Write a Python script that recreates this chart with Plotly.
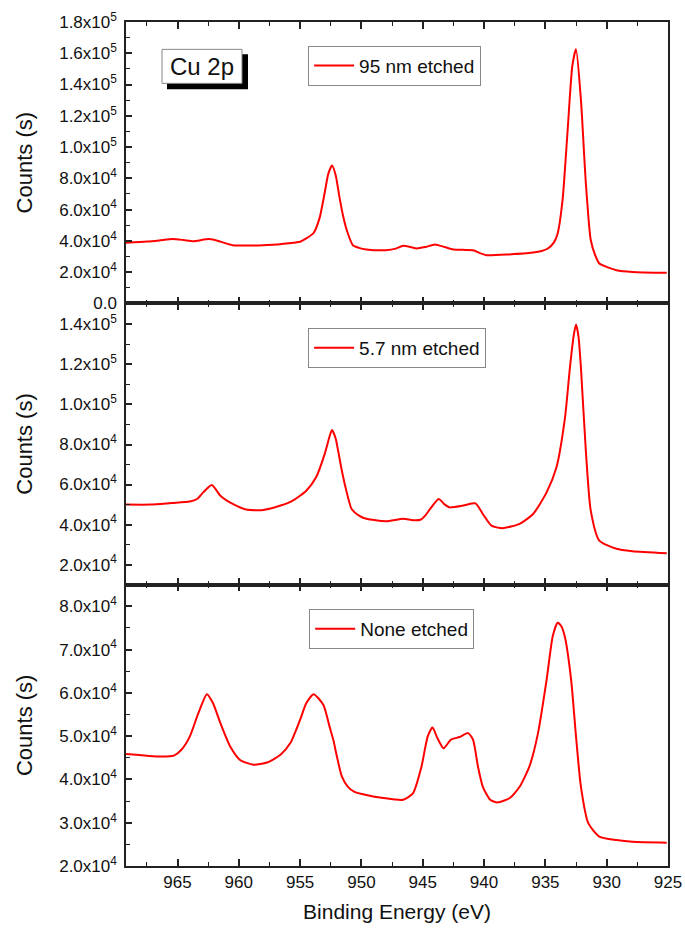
import plotly.graph_objects as go
from plotly.subplots import make_subplots

# ---------------- data (binding energy in eV, counts) ----------------
energy_95 = [969.2, 967.5, 966.5, 965.4, 964.5, 963.7, 962.4, 961.5, 960.5, 959.0, 958.0, 957.0,
             956.4, 955.0, 954.5, 953.9, 953.4, 953.0, 952.7, 952.4, 952.1, 951.8, 951.5, 951.2,
             950.7, 950.2, 949.6, 948.0, 947.2, 946.6, 946.0, 945.5, 944.8, 944.0, 943.2, 942.5,
             941.5, 940.9, 940.3, 939.8, 938.0, 936.0, 935.3, 934.8, 934.3, 934.0, 933.6, 933.2,
             932.8, 932.5, 932.1, 931.7, 931.3, 930.9, 930.6, 929.9, 929.2, 927.9, 925.1]
counts_95 = [38700, 39500, 40200, 41100, 40500, 39800, 41100, 39500, 37200, 37000, 37200, 37600,
             38100, 39400, 41500, 45000, 55000, 70600, 83000, 88200, 82000, 68300, 56000, 46900,
             37200, 35500, 34500, 34000, 35000, 36800, 36000, 35100, 36000, 37700, 36000, 34500,
             34200, 34000, 32000, 30800, 31300, 32500, 33500, 35100, 39000, 44700, 66000, 109000,
             152000, 162500, 130000, 77000, 40500, 30000, 25500, 23000, 21200, 20100, 19500]

energy_57 = [969.2, 967.2, 965.5, 964.0, 963.4, 962.9, 962.2, 961.5, 960.5, 959.4, 958.0, 956.6,
             955.6, 954.5, 953.7, 953.0, 952.6, 952.4, 952.1, 951.9, 951.6, 951.3, 950.8, 950.2,
             949.6, 948.0, 946.6, 945.8, 945.2, 944.8, 944.4, 943.7, 943.2, 942.8, 941.7, 940.7,
             940.1, 939.4, 938.5, 937.1, 936.0, 934.9, 934.1, 933.4, 933.0, 932.7, 932.5, 932.3,
             932.1, 931.7, 931.3, 930.6, 929.2, 927.9, 925.1]
counts_57 = [50000, 50000, 50800, 51500, 52800, 56100, 59800, 54400, 50300, 47500, 47300, 49500,
             52000, 56900, 63600, 75200, 84000, 87200, 83000, 76800, 67000, 58600, 47800, 44500,
             42900, 41700, 42900, 42200, 42400, 44500, 47800, 52800, 50000, 48600, 49500, 50600,
             45300, 39500, 38200, 40400, 45300, 56100, 68500, 93400, 118300, 134000, 139900, 134000,
             118300, 76800, 47000, 32000, 27900, 26700, 25700]

energy_none = [969.2, 966.4, 965.3, 964.7, 964.0, 963.3, 962.6, 962.1, 961.5, 960.7, 959.9, 958.8,
               957.7, 956.6, 955.8, 955.0, 954.5, 953.9, 953.1, 952.6, 952.3, 952.0, 951.6, 951.1,
               950.6, 949.6, 948.2, 946.6, 945.8, 945.1, 944.6, 944.2, 943.8, 943.3, 942.7, 942.0,
               941.3, 940.9, 940.5, 940.1, 939.5, 938.9, 937.9, 937.1, 936.3, 935.6, 934.9, 934.4,
               934.0, 933.7, 933.4, 932.9, 932.5, 932.1, 931.5, 930.6, 929.2, 927.9, 925.1]
counts_none = [45900, 45300, 45500, 46800, 49900, 55300, 59700, 57600, 53000, 47600, 44500, 43400,
               43900, 45700, 48400, 53800, 57600, 59700, 57200, 52200, 49200, 45300, 40700, 38300,
               37200, 36400, 35700, 35300, 36800, 43000, 49900, 52000, 49500, 47200, 49200, 49800,
               50700, 49200, 43000, 38300, 35300, 34700, 35700, 38300, 43000, 50700, 63000, 73100,
               76200, 75400, 72800, 63000, 49900, 38300, 29900, 26800, 26000, 25600, 25400]

series_names = ["95 nm etched", "5.7 nm etched", "None etched"]

# y tick definitions per panel
ytick_vals_top = [0, 20000, 40000, 60000, 80000, 100000, 120000, 140000, 160000, 180000]
ytick_text_top = ["0.0", "2.0x10<sup>4</sup>", "4.0x10<sup>4</sup>", "6.0x10<sup>4</sup>",
                  "8.0x10<sup>4</sup>", "1.0x10<sup>5</sup>", "1.2x10<sup>5</sup>",
                  "1.4x10<sup>5</sup>", "1.6x10<sup>5</sup>", "1.8x10<sup>5</sup>"]
ytick_vals_mid = [20000, 40000, 60000, 80000, 100000, 120000, 140000]
ytick_text_mid = ["2.0x10<sup>4</sup>", "4.0x10<sup>4</sup>", "6.0x10<sup>4</sup>",
                  "8.0x10<sup>4</sup>", "1.0x10<sup>5</sup>", "1.2x10<sup>5</sup>",
                  "1.4x10<sup>5</sup>"]
ytick_vals_bot = [20000, 30000, 40000, 50000, 60000, 70000, 80000]
ytick_text_bot = ["2.0x10<sup>4</sup>", "3.0x10<sup>4</sup>", "4.0x10<sup>4</sup>",
                  "5.0x10<sup>4</sup>", "6.0x10<sup>4</sup>", "7.0x10<sup>4</sup>",
                  "8.0x10<sup>4</sup>"]
xtick_vals = [965, 960, 955, 950, 945, 940, 935, 930, 925]

FONT = "Liberation Sans, Arial, sans-serif"
RED = "#ff0000"

fig = make_subplots(rows=3, cols=1, shared_xaxes=True, vertical_spacing=0)

data = [(energy_95, counts_95), (energy_57, counts_57), (energy_none, counts_none)]
legends = ["legend", "legend2", "legend3"]
for i, ((e, c), name) in enumerate(zip(data, series_names)):
    fig.add_trace(go.Scatter(x=e, y=c, mode="lines", name=name,
                             line=dict(color=RED, width=2, shape="spline", smoothing=0.6),
                             legend=legends[i], showlegend=True),
                  row=i + 1, col=1)

axis_common = dict(showline=True, linecolor="#222", linewidth=1.5, showgrid=False,
                   zeroline=False, ticks="inside", tickcolor="#222", tickwidth=1.5)

for r in (1, 2, 3):
    fig.update_xaxes(range=[969.2, 925], tickvals=xtick_vals, ticklen=7,
                     minor=dict(ticks="inside", dtick=2.5, tick0=925, ticklen=4,
                                tickcolor="#222", tickwidth=1.2),
                     mirror="ticks", showticklabels=(r == 3),
                     tickfont=dict(family=FONT, size=17, color="#111"),
                     row=r, col=1, **axis_common)

fig.update_xaxes(title=dict(text="Binding Energy (eV)", font=dict(family=FONT, size=21, color="#111"),
                            standoff=13), row=3, col=1)

yconf = [
    (1, [0, 180000], ytick_vals_top, ytick_text_top, 10000),
    (2, [10000, 150500], ytick_vals_mid, ytick_text_mid, 10000),
    (3, [20000, 85000], ytick_vals_bot, ytick_text_bot, 5000),
]
for r, rng, tv, tt, mdt in yconf:
    fig.update_yaxes(range=rng, tickvals=tv, ticktext=tt, ticklen=6,
                     minor=dict(ticks="inside", dtick=mdt, tick0=0, ticklen=4,
                                tickcolor="#222", tickwidth=1.2),
                     mirror=True, ticklabelstandoff=4,
                     tickfont=dict(family=FONT, size=17, color="#111"),
                     title=dict(text="Counts (s)", font=dict(family=FONT, size=22, color="#111"),
                                standoff=20),
                     row=r, col=1, **axis_common)

legend_style = dict(bgcolor="white", bordercolor="#888", borderwidth=1,
                    font=dict(family=FONT, size=19, color="#111"),
                    xanchor="left", yanchor="top", itemwidth=40,
                    tracegroupgap=0)
fig.update_layout(
    legend=dict(x=0.336, y=0.972, **legend_style),
    legend2=dict(x=0.336, y=0.6377, **legend_style),
    legend3=dict(x=0.338, y=0.3045, **legend_style),
)

# "Cu 2p" label box with drop shadow
fig.add_shape(type="rect", xref="paper", yref="paper", x0=0.0756, x1=0.2251, y0=0.9202, y1=0.9617,
              fillcolor="black", line=dict(width=0), layer="above")
fig.add_shape(type="rect", xref="paper", yref="paper", x0=0.0664, x1=0.2140, y0=0.9273, y1=0.9676,
              fillcolor="white", line=dict(color="#888", width=1), layer="above")
fig.add_annotation(text="Cu 2p", xref="paper", yref="paper", x=0.1402, y=0.9475,
                   showarrow=False, font=dict(family=FONT, size=24, color="#111"),
                   xanchor="center", yanchor="middle")

fig.update_layout(
    width=685, height=928,
    margin=dict(l=126, r=17, t=22, b=62, autoexpand=False),
    paper_bgcolor="white", plot_bgcolor="white",
    font=dict(family=FONT, color="#111"),
)

fig.write_html("out.html")
